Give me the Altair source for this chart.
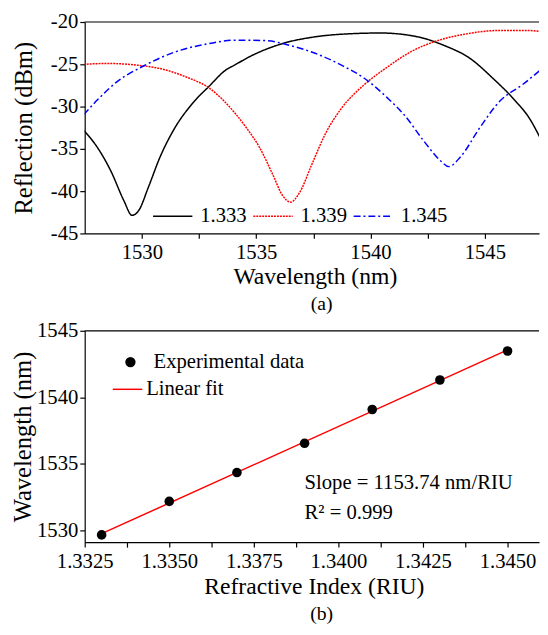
import altair as alt
import pandas as pd

FONT = "Liberation Serif"

# ---------- panel (a): reflection spectra ----------
series_names = ["1.333", "1.339", "1.345"]
series_colors = ["#000000", "#ff0000", "#0000ff"]

wl_1333 = [1527.46, 1528.06, 1528.64, 1529.21, 1529.57, 1529.86, 1530.29, 1530.79,
           1531.36, 1532.22, 1532.94, 1533.66, 1534.05, 1534.86, 1536.15, 1537.58,
           1539.02, 1540.45, 1542.06, 1543.2, 1544.35, 1545.35, 1546.36, 1546.93, 1547.42]
r_1333 = [-32.8, -34.85, -37.6, -41.1, -42.86, -42.3, -39.5, -36.0,
          -32.9, -29.6, -27.6, -25.7, -25.1, -23.9, -22.55, -21.75,
          -21.4, -21.3, -21.75, -22.75, -24.3, -26.65, -29.4, -31.3, -33.7]

wl_1339 = [1527.46, 1528.5, 1529.78, 1530.79, 1531.94, 1532.94, 1534.05, 1534.57,
           1535.15, 1535.72, 1536.15, 1536.51, 1536.87, 1537.44, 1538.01, 1538.73,
           1539.73, 1540.75, 1541.77, 1542.77, 1544.2, 1545.64, 1546.79, 1547.42]
r_1339 = [-25.0, -24.9, -25.1, -25.5, -26.5, -27.8, -30.7, -32.5,
          -34.85, -38.0, -40.5, -41.3, -40.3, -36.8, -33.3, -30.2,
          -27.4, -25.3, -23.5, -22.35, -21.4, -21.0, -21.0, -21.1]

wl_1345 = [1527.46, 1528.06, 1528.92, 1530.07, 1531.5, 1532.94, 1534.05, 1535.43,
           1536.44, 1537.58, 1538.73, 1539.73, 1540.75, 1541.48, 1542.34, 1543.06,
           1543.42, 1543.92, 1544.78, 1545.64, 1546.65, 1547.42]
r_1345 = [-30.95, -29.2, -27.05, -25.2, -23.5, -22.55, -22.15, -22.2,
          -22.75, -23.7, -25.1, -26.65, -29.0, -31.0, -34.1, -36.4,
          -37.1, -36.0, -32.5, -29.4, -27.4, -25.7]

top_x_ticks = [1530, 1532.5, 1535, 1537.5, 1540, 1542.5, 1545]
top_y_ticks = [-45, -40, -35, -30, -25, -20]

# ---------- panel (b): dip wavelength vs refractive index ----------
ri = [1.333, 1.335, 1.337, 1.339, 1.341, 1.343, 1.345]
dip_wl = [1529.65, 1532.17, 1534.34, 1536.54, 1539.08, 1541.3, 1543.48]
bot_x_ticks = [1.3325, 1.33375, 1.335, 1.33625, 1.3375, 1.33875, 1.34, 1.34125,
               1.3425, 1.34375, 1.345]
bot_y_ticks = [1530, 1532.5, 1535, 1537.5, 1540, 1542.5, 1545]
annot_text = ["Slope = 1153.74 nm/RIU", "R\u00b2 = 0.999"]
annot_x = [1.339, 1.339]
annot_y = [1533.53, 1531.3]

W = 462
H_TOP = 215
H_BOT = 215

rows = []
for name, xs, ys in [("1.333", wl_1333, r_1333), ("1.339", wl_1339, r_1339), ("1.345", wl_1345, r_1345)]:
    for a, b in zip(xs, ys):
        rows.append({"wl": a, "refl": b, "n": name})
spec_df = pd.DataFrame(rows)

axis_common = dict(domainColor="black", tickColor="black", labelColor="black",
                   titleColor="black", labelFont=FONT, titleFont=FONT,
                   titleFontWeight="normal", grid=False, tickSize=5, domainWidth=1.2,
                   tickWidth=1.2, labelFlush=False, labelOverlap=False)

top_legend = alt.Legend(orient="none", legendX=68.5, legendY=176.5, direction="horizontal",
                        title=None, symbolType="stroke", symbolSize=1600,
                        symbolStrokeWidth=1.5, labelFont=FONT, labelFontSize=21,
                        labelColor="black", labelOffset=7, columnPadding=3, padding=0,
                        labelLimit=0)

lines = alt.Chart(spec_df).mark_line(strokeWidth=1.5, interpolate="monotone", clip=True).encode(
    x=alt.X("wl:Q", scale=alt.Scale(domain=[1527.5, 1547.37], nice=False, zero=False),
            axis=alt.Axis(values=top_x_ticks, title="Wavelength (nm)",
                          labelExpr="datum.value % 5 == 0 ? toString(datum.value) : ''",
                          labelFontSize=21, titleFontSize=24, labelPadding=3, titlePadding=3,
                          titleX=234, **axis_common)),
    y=alt.Y("refl:Q", scale=alt.Scale(domain=[-45, -20], nice=False, zero=False),
            axis=alt.Axis(values=top_y_ticks, title="Reflection (dBm)",
                          labelExpr="toString(datum.value)",
                          labelFontSize=21, titleFontSize=25, labelPadding=2, titlePadding=14,
                          **axis_common)),
    color=alt.Color("n:N", scale=alt.Scale(domain=series_names, range=series_colors),
                    legend=top_legend),
    strokeDash=alt.StrokeDash("n:N", scale=alt.Scale(domain=series_names,
                                                     range=[[1, 0], [2, 1], [7, 3, 2, 3]]),
                              legend=top_legend),
)

top_border = alt.Chart(alt.Data(values=[{}])).mark_rule(color="black", strokeWidth=1.2).encode(
    x=alt.value(0), x2=alt.value(W), y=alt.value(0))

top = alt.layer(lines, top_border).properties(
    width=W, height=H_TOP,
    title=alt.TitleParams("(a)", orient="bottom", font=FONT, fontSize=20,
                          fontWeight="normal", color="black", offset=6, dx=10))

# bottom
pts_df = pd.DataFrame({"ri": ri, "wl": dip_wl, "s": ["Experimental data"] * len(ri)})
bx = alt.Scale(domain=[1.3325, 1.34593], nice=False, zero=False)
by = alt.Scale(domain=[1529.1, 1545], nice=False, zero=False)

fit = alt.Chart(pts_df).transform_regression("ri", "wl", extent=[1.333, 1.345]).transform_calculate(
    s2="'Linear fit'").mark_line(strokeWidth=1.5).encode(
    x=alt.X("ri:Q", scale=bx,
            axis=alt.Axis(values=bot_x_ticks, title="Refractive Index (RIU)",
                          labelExpr="abs(datum.value*400 - round(datum.value*400)) < 0.01 ? format(datum.value, '.4f') : ''",
                          labelFontSize=21, titleFontSize=24, labelPadding=4, titlePadding=3,
                          titleX=233, **axis_common)),
    y=alt.Y("wl:Q", scale=by,
            axis=alt.Axis(values=bot_y_ticks, title="Wavelength (nm)",
                          labelExpr="datum.value % 5 == 0 ? toString(datum.value) : ''",
                          labelFontSize=21, titleFontSize=25, labelPadding=2, titlePadding=1,
                          **axis_common)),
    stroke=alt.Stroke("s2:N", scale=alt.Scale(domain=["Linear fit"], range=["#ff0000"]),
                      legend=alt.Legend(orient="none", legendX=27.5, legendY=357.5, title=None,
                                        symbolType="stroke", symbolSize=900,
                                        symbolStrokeWidth=1.5, labelFont=FONT,
                                        labelFontSize=21, labelColor="black",
                                        labelOffset=3, padding=0, labelLimit=0)),
)

pts = alt.Chart(pts_df).mark_circle(size=95, opacity=1).encode(
    x=alt.X("ri:Q", scale=bx),
    y=alt.Y("wl:Q", scale=by),
    fill=alt.Fill("s:N", scale=alt.Scale(domain=["Experimental data"], range=["#000000"]),
                  legend=alt.Legend(orient="none", legendX=36, legendY=335.3, title=None,
                                    symbolType="circle", symbolSize=110,
                                    symbolFillColor="black", symbolStrokeWidth=0,
                                    labelFont=FONT, labelFontSize=21, labelColor="black",
                                    labelOffset=13, padding=0, labelLimit=0)),
)

annot_df = pd.DataFrame({"x": annot_x, "y": annot_y, "t": annot_text})
annot = alt.Chart(annot_df).mark_text(align="left", baseline="middle", font=FONT,
                                      fontSize=21, color="black").encode(
    x=alt.X("x:Q", scale=bx), y=alt.Y("y:Q", scale=by), text="t:N")

bot_border = alt.Chart(alt.Data(values=[{}])).mark_rule(color="black", strokeWidth=1.2).encode(
    x=alt.value(0), x2=alt.value(W), y=alt.value(0))

bottom = alt.layer(fit, pts, annot, bot_border).properties(
    width=W, height=H_BOT,
    title=alt.TitleParams("(b)", orient="bottom", font=FONT, fontSize=20,
                          fontWeight="normal", color="black", offset=6, dx=10))

chart = alt.vconcat(top, bottom, spacing=6).properties(
    padding={"left": 3, "top": -2, "right": 0, "bottom": 0}
).configure(background="white", font=FONT).configure_view(stroke=None).configure_axis(
    labelFont=FONT, titleFont=FONT).configure_legend(labelFont=FONT).configure_title(font=FONT)

chart.save("out.html", embed_options={"renderer": "svg", "actions": False})
